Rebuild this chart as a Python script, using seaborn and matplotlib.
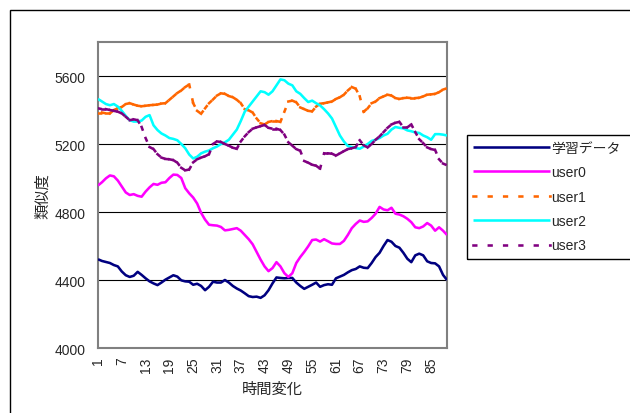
import numpy as np
import pandas as pd
import matplotlib
matplotlib.use("Agg")
import matplotlib.pyplot as plt
from matplotlib.lines import Line2D
from matplotlib.patches import Rectangle
import seaborn as sns

# ---- data -------------------------------------------------------------
steps = np.arange(1, 90)

learn = [4522, 4512, 4506, 4500, 4488, 4480, 4450, 4428, 4418, 4425,
         4448, 4430, 4410, 4392, 4380, 4370, 4385, 4402, 4415, 4428,
         4420, 4398, 4392, 4390, 4372, 4378, 4365, 4340, 4360, 4390,
         4385, 4385, 4400, 4385, 4365, 4350, 4338, 4322, 4305, 4300,
         4302, 4295, 4310, 4340, 4380, 4415, 4412, 4410, 4412, 4412,
         4385, 4365, 4348, 4360, 4372, 4385, 4360, 4370, 4375, 4372,
         4410, 4420, 4430, 4445, 4458, 4465, 4480, 4472, 4470, 4500,
         4535, 4560, 4600, 4635, 4625, 4600, 4590, 4560, 4525, 4505,
         4545, 4555, 4545, 4510, 4500, 4498, 4480, 4430, 4400]

user0 = [4956, 4975, 4998, 5015, 5010, 4985, 4950, 4915, 4900, 4905,
         4895, 4890, 4920, 4945, 4965, 4960, 4972, 4975, 5000, 5020,
         5018, 5000, 4940, 4910, 4885, 4850, 4795, 4755, 4725, 4722,
         4720, 4712, 4692, 4695, 4700, 4705, 4690, 4665, 4640, 4610,
         4565, 4520, 4480, 4452, 4470, 4505, 4480, 4440, 4418, 4440,
         4500, 4535, 4565, 4598, 4635, 4638, 4626, 4640, 4628, 4615,
         4612, 4612, 4630, 4665, 4705, 4730, 4750, 4742, 4745, 4765,
         4790, 4830, 4815, 4810, 4825, 4790, 4785, 4775, 4760, 4740,
         4710, 4705, 4715, 4735, 4720, 4690, 4710, 4690, 4665]

user1 = [5385, 5385, 5380, 5380, 5400, 5410, 5418, 5435, 5440, 5432,
         5425, 5422, 5425, 5428, 5430, 5432, 5438, 5440, 5460, 5480,
         5500, 5515, 5535, 5550, 5440, 5395, 5378, 5410, 5440, 5462,
         5485, 5498, 5495, 5482, 5475, 5460, 5440, 5405, 5398, 5385,
         5350, 5322, 5315, 5330, 5335, 5335, 5330, 5390, 5450, 5455,
         5445, 5415, 5405, 5395, 5392, 5420, 5437, 5440, 5445, 5450,
         5465, 5475, 5490, 5515, 5535, 5525, 5480, 5390, 5410, 5440,
         5450, 5470, 5480, 5490, 5485, 5470, 5465, 5470, 5472, 5470,
         5470, 5472, 5480, 5490, 5492, 5495, 5505, 5520, 5528]

user2 = [5465, 5450, 5435, 5428, 5435, 5420, 5395, 5365, 5340, 5332,
         5332, 5338, 5360, 5370, 5310, 5282, 5262, 5250, 5235, 5230,
         5222, 5200, 5175, 5138, 5115, 5125, 5145, 5155, 5162, 5175,
         5185, 5200, 5210, 5225, 5255, 5285, 5335, 5390, 5420, 5450,
         5480, 5510, 5505, 5490, 5510, 5545, 5580, 5575, 5555, 5545,
         5510, 5495, 5470, 5447, 5455, 5440, 5427, 5405, 5380, 5350,
         5300, 5250, 5215, 5188, 5182, 5176, 5172, 5185, 5200, 5218,
         5225, 5235, 5250, 5260, 5285, 5300, 5295, 5292, 5280, 5275,
         5268, 5265, 5250, 5240, 5225, 5258, 5258, 5255, 5250]

user3 = [5410, 5405, 5405, 5400, 5395, 5390, 5380, 5360, 5340, 5345,
         5340, 5300, 5235, 5182, 5170, 5140, 5120, 5112, 5110, 5105,
         5090, 5060, 5045, 5050, 5092, 5110, 5120, 5128, 5140, 5200,
         5215, 5212, 5200, 5190, 5178, 5172, 5215, 5245, 5270, 5290,
         5298, 5305, 5312, 5295, 5290, 5290, 5282, 5255, 5210, 5190,
         5170, 5160, 5100, 5090, 5078, 5072, 5055, 5145, 5145, 5143,
         5132, 5145, 5158, 5170, 5175, 5182, 5222, 5192, 5180, 5200,
         5225, 5245, 5270, 5295, 5315, 5325, 5330, 5298, 5298, 5315,
         5270, 5228, 5205, 5180, 5170, 5165, 5110, 5085, 5075]

series_names = ["学習データ", "user0", "user1", "user2", "user3"]
series_values = [learn, user0, user1, user2, user3]
series_colors = ["#000080", "#FF00FF", "#FF6600", "#00FFFF", "#800080"]
series_dashed = [False, False, True, False, True]

y_ticks = [4000, 4400, 4800, 5200, 5600]
x_labelled_steps = [1, 7, 13, 19, 25, 31, 37, 43, 49, 55, 61, 67, 73, 79, 85]

# ---- style ------------------------------------------------------------
sns.set_style("white")
plt.rcParams["font.family"] = ["Liberation Sans", "Noto Sans CJK JP"]
plt.rcParams["lines.scale_dashes"] = False

LW = 1.85
# square dashes; the projecting cap adds half a line width at each end
DASH = (0, (1.95, 9.1))

W, H = 630, 414
fig = plt.figure(figsize=(W / 100, H / 100), dpi=100)
fig.patch.set_facecolor("white")

# outer chart frame (runs off the right and bottom edges)
fig.patches.append(Rectangle((10 / W, -0.2), 1.5, 1.2 - 11 / H,
                             transform=fig.transFigure, fill=False,
                             edgecolor="black", lw=1.0))

left, right, top, bottom = 98, 447, 43, 349
ax = fig.add_axes([left / W, 1 - bottom / H, (right - left) / W, (bottom - top) / H])
ax.set_facecolor("white")

for name, vals, color, dashed in zip(series_names, series_values,
                                     series_colors, series_dashed):
    v = np.asarray(vals, dtype=float)
    if not dashed:
        df = pd.DataFrame({"step": steps, "value": v})
        sns.lineplot(data=df, x="step", y="value", color=color, lw=LW,
                     ax=ax, legend=False, solid_joinstyle="round",
                     solid_capstyle="butt", zorder=3)
    else:
        # one unit per step so the dash pattern restarts on every segment
        seg = pd.DataFrame({
            "seg": np.repeat(np.arange(len(steps) - 1), 2),
            "step": np.column_stack([steps[:-1], steps[1:]]).ravel(),
            "value": np.column_stack([v[:-1], v[1:]]).ravel(),
        })
        sns.lineplot(data=seg, x="step", y="value", units="seg",
                     estimator=None, color=color, lw=LW, linestyle=DASH,
                     dash_capstyle="projecting", ax=ax, legend=False, zorder=3)

ax.set_xlim(1, 89)
ax.set_ylim(4000, 5800)
ax.set_yticks(y_ticks)
ax.set_yticklabels([str(t) for t in y_ticks])
ax.set_xticks(steps)
ax.set_xticklabels([str(s) if s in x_labelled_steps else "" for s in steps],
                   rotation=90)

ax.grid(axis="y", color="black", lw=0.8)
ax.grid(axis="x", visible=False)
ax.set_axisbelow(True)

ax.tick_params(axis="x", direction="in", length=3, width=0.7,
               color="#303030", pad=6, labelsize=10)
ax.tick_params(axis="y", length=0, pad=9, labelsize=10)

for sp in ax.spines.values():
    sp.set_visible(True)
    sp.set_color("#808080")
    sp.set_linewidth(1.5)

ax.set_xlabel("時間変化", fontsize=11)
ax.xaxis.set_label_coords(0.5, -(383 - bottom) / (bottom - top))
ax.set_ylabel("類似度", fontsize=11)
ax.yaxis.set_label_coords((50 - left) / (right - left), 0.5)

handles = [Line2D([], [], color=c, lw=LW,
                  linestyle=DASH if d else "-",
                  dash_capstyle="projecting", solid_capstyle="butt")
           for c, d in zip(series_colors, series_dashed)]
leg = fig.legend(handles, series_names, loc="upper left",
                 bbox_to_anchor=(467 / W, 1 - 135.5 / H),
                 frameon=False, handlelength=5.5, handletextpad=0.1,
                 borderpad=0.45, labelspacing=0.75, fontsize=10,
                 borderaxespad=0)

# legend box: same left/top/bottom as the legend, running off the right edge
fig.canvas.draw()
bb = leg.get_window_extent()
fig.patches.append(Rectangle((bb.x0 / W, bb.y0 / H), 1.2, bb.height / H,
                             transform=fig.transFigure, fill=False,
                             edgecolor="black", lw=1.0))

fig.savefig("out.png", dpi=100, facecolor="white")
